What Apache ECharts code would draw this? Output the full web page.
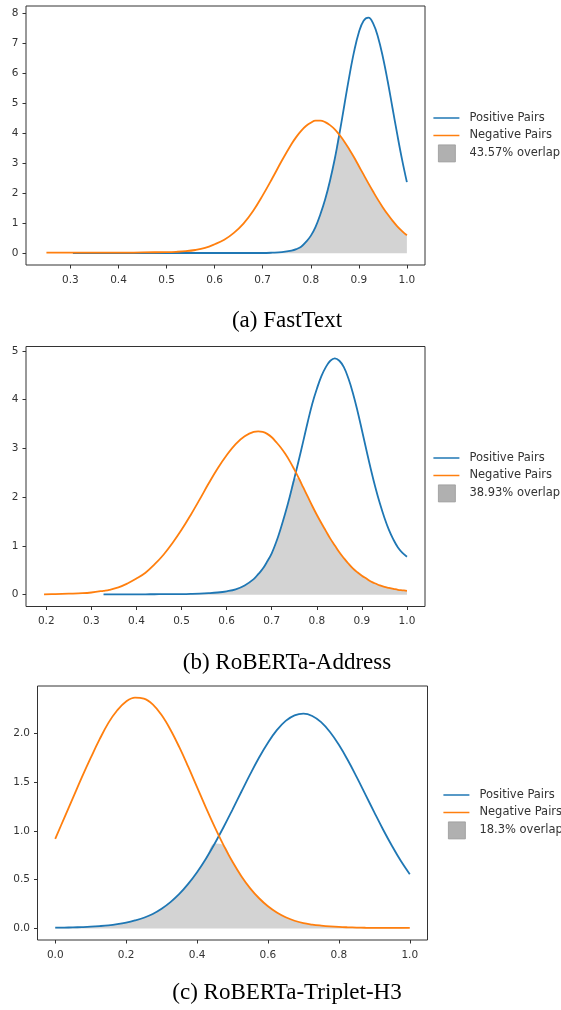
<!DOCTYPE html>
<html>
<head>
<meta charset="utf-8">
<script src="https://cdn.jsdelivr.net/npm/echarts@6/dist/echarts.min.js"></script>
<style>
html,body{margin:0;padding:0;background:#fff;}
#chart{width:561px;height:1010px;}
</style>
</head>
<body>
<div id="chart"></div>
<script>
// ---------- data ----------
const CAPTIONS = ['(a) FastText', '(b) RoBERTa-Address', '(c) RoBERTa-Triplet-H3'];
const SERIES_NAMES = ['Positive Pairs', 'Negative Pairs'];
const OVERLAP_LABELS = ['43.57% overlap', '38.93% overlap', '18.3% overlap'];

// (a) FastText
const X1 = [0.25,0.305,0.35,0.40,0.45,0.50,0.52,0.54,0.56,0.58,0.60,0.62,0.64,0.66,0.68,0.70,0.72,0.74,0.76,
  0.77,0.78,0.79,0.80,0.81,0.82,0.83,0.84,0.85,0.86,0.87,0.88,0.89,0.90,0.91,0.92,0.93,0.94,0.95,0.96,0.97,0.98,0.99,1.00];
const POS1 = [null,0.01,0.01,0.01,0.01,0.01,0.01,0.01,0.01,0.01,0.01,0.01,0.01,0.01,0.01,0.01,0.02,0.04,0.09,
  0.14,0.22,0.38,0.58,0.88,1.30,1.80,2.42,3.15,4.01,4.95,5.88,6.71,7.36,7.75,7.85,7.65,7.20,6.54,5.74,4.85,3.96,3.12,2.37];
const NEG1 = [0.02,0.02,0.02,0.02,0.03,0.04,0.05,0.07,0.11,0.18,0.30,0.45,0.68,0.99,1.41,1.93,2.50,3.09,3.64,
  3.88,4.08,4.24,4.35,4.42,4.42,4.37,4.27,4.13,3.94,3.72,3.47,3.20,2.91,2.62,2.33,2.05,1.78,1.53,1.30,1.09,0.90,0.74,0.60];
const XTICKS1 = [0.3,0.4,0.5,0.6,0.7,0.8,0.9,1.0];
const YTICKS1 = [0,1,2,3,4,5,6,7,8];

// (b) RoBERTa-Address
const X2 = [0.195,0.22,0.25,0.28,0.30,0.327,0.34,0.36,0.38,0.40,0.42,0.44,0.46,0.48,0.50,0.52,0.54,0.56,0.58,0.60,0.62,0.64,0.66,
  0.67,0.68,0.69,0.70,0.71,0.72,0.73,0.74,0.75,0.76,0.77,0.78,0.79,0.80,0.81,0.82,0.83,0.84,0.85,0.86,0.87,0.88,0.89,0.90,
  0.91,0.92,0.93,0.94,0.95,0.96,0.97,0.98,0.99,1.00];
const POS2 = [null,null,null,null,null,0.005,0.005,0.005,0.006,0.007,0.008,0.009,0.01,0.011,0.012,0.015,0.02,0.03,0.045,0.07,0.11,0.19,0.32,
  0.42,0.53,0.68,0.85,1.08,1.36,1.67,2.01,2.38,2.76,3.15,3.55,3.92,4.22,4.48,4.67,4.80,4.85,4.80,4.67,4.44,4.14,3.78,3.38,
  2.97,2.57,2.20,1.87,1.58,1.33,1.13,0.97,0.86,0.78];
const NEG2 = [0.008,0.012,0.02,0.03,0.045,0.08,0.10,0.15,0.23,0.33,0.45,0.62,0.82,1.06,1.33,1.63,1.95,2.28,2.59,2.86,3.09,3.25,3.34,
  3.35,3.34,3.30,3.23,3.13,3.02,2.89,2.74,2.57,2.39,2.20,2.01,1.82,1.64,1.47,1.31,1.15,1.01,0.87,0.75,0.64,0.54,0.46,0.39,
  0.33,0.27,0.23,0.19,0.16,0.14,0.12,0.10,0.09,0.08];
const XTICKS2 = [0.2,0.3,0.4,0.5,0.6,0.7,0.8,0.9,1.0];
const YTICKS2 = [0,1,2,3,4,5];

// (c) RoBERTa-Triplet-H3
const X3 = [0,0.025,0.05,0.075,0.1,0.125,0.15,0.175,0.2,0.225,0.25,0.275,0.3,0.325,0.35,0.375,0.4,0.425,0.45,0.475,
  0.5,0.525,0.55,0.575,0.6,0.625,0.65,0.675,0.7,0.725,0.75,0.775,0.8,0.825,0.85,0.875,0.9,0.925,0.95,0.975,1.0];
const POS3 = [0.008,0.009,0.011,0.014,0.018,0.024,0.032,0.044,0.06,0.082,0.11,0.148,0.202,0.270,0.354,0.457,0.577,0.716,0.872,1.041,
  1.220,1.403,1.584,1.755,1.907,2.035,2.130,2.187,2.205,2.181,2.117,2.016,1.885,1.729,1.556,1.374,1.191,1.013,0.846,0.692,0.557];
const NEG3 = [0.92,1.13,1.34,1.55,1.75,1.94,2.11,2.24,2.33,2.37,2.36,2.30,2.19,2.04,1.86,1.66,1.45,1.24,1.04,0.853,
  0.684,0.537,0.412,0.310,0.228,0.164,0.115,0.079,0.054,0.04,0.03,0.022,0.016,0.012,0.009,0.007,0.006,0.005,0.005,0.005,0.005];
const XTICKS3 = [0,0.2,0.4,0.6,0.8,1.0];
const YTICKS3 = [0,0.5,1.0,1.5,2.0];

// ---------- layout / style ----------
const BLUE = '#1f77b4', ORANGE = '#ff7f0e', FILL = '#d3d3d3', PATCH = '#b0b0b0';
const AX = '#333';
const FONT = 'DejaVu Sans';

const panels = [
  {X: X1, P: POS1, N: NEG1, xt: XTICKS1, yt: YTICKS1, xr: [0.2075, 1.0377], yr: [-0.39, 8.24], yDec: 0,
   grid: {left: 26, top: 6, width: 399, height: 259}, legend: {left: 433, top: 109.5}, cap: 321},
  {X: X2, P: POS2, N: NEG2, xt: XTICKS2, yt: YTICKS2, xr: [0.155, 1.040], yr: [-0.2425, 5.0925], yDec: 0,
   grid: {left: 26, top: 346.5, width: 399, height: 260}, legend: {left: 433, top: 449.5}, cap: 663},
  {X: X3, P: POS3, N: NEG3, xt: XTICKS3, yt: YTICKS3, xr: [-0.05, 1.05], yr: [-0.1185, 2.4885], yDec: 1,
   grid: {left: 37.5, top: 686, width: 390, height: 254}, legend: {left: 443, top: 786.5}, cap: 993}
];

const lineIcon = 'path://M0,0 M31,17 M0,7.75 H26 V9.25 H0 Z';
const patchIcon = 'path://M0,0 M31,17 M5,0 H22 V17 H5 Z';

const grids = [], xAxes = [], yAxes = [], series = [], legends = [], graphics = [];

panels.forEach((p, k) => {
  grids.push(Object.assign({show: true, borderColor: AX, borderWidth: 1, backgroundColor: 'transparent'}, p.grid));
  xAxes.push({
    type: 'value', gridIndex: k, min: p.xr[0], max: p.xr[1], position: 'bottom',
    axisLine: {show: false, onZero: false}, splitLine: {show: false},
    axisTick: {show: true, inside: false, length: 3.5, lineStyle: {color: AX, width: 1}, customValues: p.xt},
    axisLabel: {customValues: p.xt, formatter: v => v.toFixed(1), fontSize: 10.5, color: AX, fontFamily: FONT, margin: 9.5}
  });
  yAxes.push({
    type: 'value', gridIndex: k, min: p.yr[0], max: p.yr[1], position: 'left',
    axisLine: {show: false, onZero: false}, splitLine: {show: false},
    axisTick: {show: true, inside: false, length: 3.5, lineStyle: {color: AX, width: 1}, customValues: p.yt},
    axisLabel: {customValues: p.yt, formatter: v => v.toFixed(p.yDec), fontSize: 10.5, color: AX, fontFamily: FONT, margin: 7.5}
  });
  const pos = [], neg = [], ov = [];
  p.X.forEach((x, i) => {
    if (p.P[i] != null) pos.push([x, p.P[i]]);
    if (p.N[i] != null) neg.push([x, p.N[i]]);
    if (p.P[i] != null && p.N[i] != null) ov.push([x, Math.min(p.P[i], p.N[i])]);
  });
  series.push({
    name: OVERLAP_LABELS[k], type: 'line', xAxisIndex: k, yAxisIndex: k, data: ov,
    smooth: 0.4, symbol: 'none', color: PATCH, z: 1,
    lineStyle: {width: 0, opacity: 0}, areaStyle: {color: FILL, opacity: 1}, silent: true
  });
  series.push({
    name: SERIES_NAMES[0], type: 'line', xAxisIndex: k, yAxisIndex: k, data: pos,
    smooth: 0.4, symbol: 'none', color: BLUE, z: 2, lineStyle: {width: 1.8, color: BLUE}
  });
  series.push({
    name: SERIES_NAMES[1], type: 'line', xAxisIndex: k, yAxisIndex: k, data: neg,
    smooth: 0.4, symbol: 'none', color: ORANGE, z: 3, lineStyle: {width: 1.8, color: ORANGE}
  });
  legends.push({
    orient: 'vertical', left: p.legend.left, top: p.legend.top, padding: 0,
    itemWidth: 31, itemHeight: 17, itemGap: 0.5, selectedMode: false,
    textStyle: {fontSize: 11.5, color: AX, fontFamily: FONT},
    data: [
      {name: SERIES_NAMES[0], icon: lineIcon, itemStyle: {color: BLUE}},
      {name: SERIES_NAMES[1], icon: lineIcon, itemStyle: {color: ORANGE}},
      {name: OVERLAP_LABELS[k], icon: patchIcon, itemStyle: {color: PATCH, borderColor: '#999', borderWidth: 0.8}}
    ]
  });
  graphics.push({
    type: 'text', x: 287, y: p.cap,
    style: {text: CAPTIONS[k], fontFamily: 'Liberation Serif', fontSize: 23, fill: '#000',
            textAlign: 'center', textVerticalAlign: 'middle'}
  });
});

const chart = echarts.init(document.getElementById('chart'), null, {renderer: 'canvas'});
chart.setOption({
  animation: false,
  backgroundColor: '#fff',
  grid: grids, xAxis: xAxes, yAxis: yAxes, series: series,
  legend: legends, graphic: graphics
});
</script>
</body>
</html>
